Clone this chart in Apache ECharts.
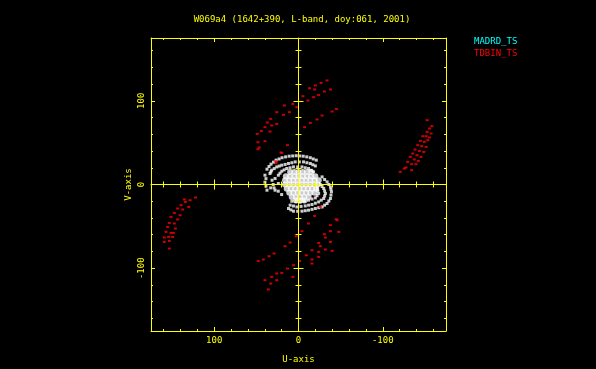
<!DOCTYPE html>
<html><head><meta charset="utf-8">
<script src="https://cdn.jsdelivr.net/npm/echarts@6/dist/echarts.min.js"></script>
<style>html,body{margin:0;padding:0;background:#000;}#c{width:596px;height:369px;}</style>
</head><body><div id="c"></div>
<script>
// ---- data (U, V) ----
const titleText = 'W069a4 (1642+390, L-band, doy:061, 2001)';
const legendNames = ['MADRD_TS', 'TDBIN_TS'];
const tickMinor = [-160,-140,-120,-100,-80,-60,-40,-20,0,20,40,60,80,100,120,140,160];
const tickMajor = [-100, 0, 100];
const crossMinor = [-160,-140,-120,-80,-60,-40,-20,20,40,60,80,120,140,160];
const crossMajor = [-100, 100];
const madrdPts = [];
const tdbinUpper = [
  [-33.9,124.3],[-26.8,121.4],[-20,118.3],[-13.1,115],[-19.1,113.5],[-30.7,111.1],[-37.9,113.5],
  [-23.9,107],[-17.9,104.3],[-11.2,100.4],[-5.3,105.5],[1.9,92.4],[6.7,96.3],[16.7,94.4],
  [10.8,86.4],[17.9,83.2],[25.8,86.4],[33,78.4],[25.8,72.4],[31.8,70.5],[39.8,68.5],[33.8,63.3],
  [49,60.5],[44,64],[37,74],[-45,90.3],[-39.9,87.2],[-28,82.4],[-22,77.7],[-14,73.6],[-7.2,68.5],
  [48.1,50.5],[39.8,51.7],[46.6,44.2],[13.1,47],[26.6,25.8],[19.8,37.8],[20.7,38.2],[27,27.8],[48.1,42.2]
];
const tdbinLower = [
  [-37.9,-55.8],[-30.7,-59.4],[-31.9,-63.3],[-23.9,-69.8],[-25.9,-73.7],[-37.9,-68.6],[-39.9,-79.3],
  [-31.9,-77.7],[-23.9,-80.5],[-23.9,-86.5],[-16,-78.5],[-16,-89.6],[-9.2,-84.5],[-16,-94.4],
  [-1.2,-91.3],[6,-96.4],[13.1,-100.4],[6.7,-110.4],[19.8,-105.6],[25.8,-106.3],[31.8,-110.4],
  [25.8,-114.3],[33,-118.3],[39.8,-114.3],[35.8,-125.4],[47.8,-91.3],[41.8,-89.6],[35,-85.7],
  [29,-82.4],[15.9,-73.7],[9.9,-69.3],[-4.1,-55.8],[2.7,-61.8],[-47.8,-56.6],[-25.9,-26.8],
  [-19.1,-37.5],[-11.9,-46.6],[-44.7,-41.5],[-45.9,-42.7],[-37.9,-48.6]
];
const tdbinRight = [
  [-152.6,76.8],[-158.2,69.7],[-155.3,66.9],[-152.6,62.8],[-157.3,60.9],[-147.4,57.7],[-151.4,57.7],
  [-155.3,56.2],[-144.6,52.1],[-149.3,50.9],[-153.4,52.9],[-141.5,47],[-146.2,45.8],[-151.4,44.9],
  [-138.2,41.8],[-143.4,40.1],[-148.6,38.9],[-135.5,37],[-140.6,35],[-145.4,33],[-132.6,33],
  [-137.4,29.9],[-142.2,28.2],[-129.5,27],[-134.3,24.3],[-139.4,24.3],[-127.5,20.3],[-134.3,17.1],
  [-120.7,15.1],[-125.4,19.1]
];
const tdbinLeft = [
  [122.2,-15.5],[128.6,-18.8],[135.4,-17.9],[134.2,-20.8],[139.3,-24.7],[130.2,-26.8],[143.4,-28.7],
  [137.4,-29.9],[147.3,-33.9],[140.5,-36.7],[151.3,-38.7],[143.4,-41.8],[153.3,-45.9],[147.3,-46.6],
  [155.3,-50.7],[146.1,-52.6],[157.2,-56.6],[151.3,-57.8],[148.5,-57.8],[159.3,-63.3],[154.1,-62.6],
  [149.3,-62.6],[159.3,-68.6],[153.3,-67.4],[153.3,-76.5]
];
const whiteRings = [
  [37.4,-6.8],[39.8,2.7],[39.8,11.1],[37.4,18.3],[32.6,24.3],[26.6,29.1],[19.5,32],[11.1,33.8],
  [2.7,34.4],[-5.6,33.8],[-14,32],[-21.1,29.1],[27.8,-6.8],[33,-4],
  [38.6,7],[38.6,-2],[35,21.5],[29.6,26.7],[23,30.5],[15.3,33],[6.9,34.1],[-1.5,34.1],[-9.8,33],[-17.5,30.5],
  [-28,9.1],[-33.9,3.1],[-37.9,-2.9],[-39.1,-8.8],[-37.9,-16.7],[-33.9,-22.7],[-28,-26.8],
  [-20,-28.7],[-11.9,-30.7],[-4.1,-31.9],[6,-31.9],[11.9,-28.7],
  [-31,6],[-36,0],[-38.5,-5.8],[-38.5,-12.7],[-36,-19.7],[-31,-24.7],[-24,-27.7],[-16,-29.7],
  [-8,-31.3],[1,-32],[9,-30.3],
  [33.8,13.1],[31.8,17.1],[25.8,21],[19.8,23.1],[11.9,25.1],[3.9,27],[-6,27],[-14,25.1],[-20,22.2],
  [27.8,7.2],[23.9,1.2],[31.4,5.1],
  [32.8,15],[28.8,19],[22.8,22],[15.8,24],[7.9,26],[-1,27],[-10,26],[-17,23.6],
  [-25.9,0],[-29.9,-4.8],[-31.9,-10.8],[-29.9,-16.7],[-23.9,-20.8],[-16,-23.9],[-8,-25.6],
  [1.9,-26.8],[9.9,-24.7],
  [-28,-2.4],[-31,-7.8],[-31,-13.7],[-27,-18.7],[-20,-22.3],[-12,-24.7],[-3,-26.2],[6,-25.7],
  [23.9,11.1],[19.8,15.9],[13.9,19.1],[6,21],[-4.1,21],[-11.9,19.1],[-17.9,15.1],
  [21.9,13.5],[17,17.5],[10,20],[1,21],[-8,20],[-15,17],
  [-22,-4.8],[-23.9,-10.8],[-20,-16],[-11.9,-18.8],[-2,-20.8],[7.9,-20],
  [-23,-7.8],[-22,-13.4],[-16,-17.4],[-7,-19.8],[3,-20.4],
  [30,0],[29,-4],[24,-8],[20,-12]
];
const whiteCore = [
  [10,15],[5,15],[0,15],[-5,15],[-10,15],[-15,15],
  [15,10],[10,10],[5,10],[0,10],[-5,10],[-10,10],[-15,10],[-20,10],
  [16,5],[11,5],[6,5],[1,5],[-4,5],[-9,5],[-14,5],[-19,5],[-24,5],
  [16,0],[11,0],[6,0],[1,0],[-4,0],[-9,0],[-14,0],[-19,0],[-23,0],
  [14,-5],[9,-5],[4,-5],[-1,-5],[-6,-5],[-11,-5],[-16,-5],[-21,-5],
  [11,-10],[6,-10],[1,-10],[-4,-10],[-9,-10],[-14,-10],[-19,-10],
  [8,-15],[3,-15],[-2,-15],[-7,-15],[-12,-15],
  [3,-19],[-2,-19],[-7,-19]
];
const tdbinAll = tdbinUpper.concat(tdbinLower, tdbinRight, tdbinLeft);

// ---- chart ----
const Y = '#ffff00';
const FONT = 'DejaVu Sans Mono';
const RANGE = 175;
function axisBase(extra) {
  return Object.assign({
    type: 'value', min: -RANGE, max: RANGE, splitLine: { show: false },
    axisLabel: { show: false }, axisTick: { show: false },
    axisLine: { show: false, onZero: false, lineStyle: { color: Y, width: 1 } }
  }, extra);
}
function tickAx(values, len, inside) {
  return { show: true, inside: inside, length: len, customValues: values, lineStyle: { color: Y, width: 1 } };
}
const xAxes = [
  axisBase({ position: 'bottom', inverse: true,
    axisLine: { show: true, onZero: false, lineStyle: { color: Y, width: 1 } },
    axisTick: tickAx(tickMinor, 2, true),
    axisLabel: { show: true, customValues: tickMajor, color: Y, fontFamily: FONT, fontSize: 9, margin: 5,
      formatter: v => String(v) },
    name: 'U-axis', nameLocation: 'middle', nameGap: 24,
    nameTextStyle: { color: Y, fontFamily: FONT, fontSize: 9 } }),
  axisBase({ position: 'bottom', inverse: true, axisTick: tickAx(tickMajor, 4, true) }),
  axisBase({ position: 'top', inverse: true,
    axisLine: { show: true, onZero: false, lineStyle: { color: Y, width: 1 } },
    axisTick: tickAx(tickMinor, 2, true) }),
  axisBase({ position: 'top', inverse: true, axisTick: tickAx(tickMajor, 4, true) }),
  axisBase({ position: 'bottom', inverse: true, z: 5,
    axisLine: { show: true, onZero: true, onZeroAxisIndex: 0, lineStyle: { color: Y, width: 1 } },
    axisTick: tickAx(crossMinor, 3, true) }),
  axisBase({ position: 'bottom', inverse: true, z: 5,
    axisLine: { show: false, onZero: true, onZeroAxisIndex: 0, lineStyle: { color: Y } },
    axisTick: tickAx(crossMinor, 3, false) }),
  axisBase({ position: 'bottom', inverse: true, z: 5,
    axisLine: { show: false, onZero: true, onZeroAxisIndex: 0, lineStyle: { color: Y } },
    axisTick: tickAx(crossMajor, 5, true) }),
  axisBase({ position: 'bottom', inverse: true, z: 5,
    axisLine: { show: false, onZero: true, onZeroAxisIndex: 0, lineStyle: { color: Y } },
    axisTick: tickAx(crossMajor, 5, false) })
];
const yAxes = [
  axisBase({ position: 'left',
    axisLine: { show: true, onZero: false, lineStyle: { color: Y, width: 1 } },
    axisTick: tickAx(tickMinor, 2, true),
    axisLabel: { show: true, customValues: tickMajor, color: Y, fontFamily: FONT, fontSize: 9, margin: 5,
      rotate: 90, formatter: v => String(v) },
    name: 'V-axis', nameLocation: 'middle', nameGap: 18, nameRotate: 90,
    nameTextStyle: { color: Y, fontFamily: FONT, fontSize: 9 } }),
  axisBase({ position: 'left', axisTick: tickAx(tickMajor, 4, true) }),
  axisBase({ position: 'right',
    axisLine: { show: true, onZero: false, lineStyle: { color: Y, width: 1 } },
    axisTick: tickAx(tickMinor, 2, true) }),
  axisBase({ position: 'right', axisTick: tickAx(tickMajor, 4, true) }),
  axisBase({ position: 'left', z: 5,
    axisLine: { show: true, onZero: true, onZeroAxisIndex: 0, lineStyle: { color: Y, width: 1 } },
    axisTick: tickAx(crossMinor, 3, true) }),
  axisBase({ position: 'left', z: 5,
    axisLine: { show: false, onZero: true, onZeroAxisIndex: 0, lineStyle: { color: Y } },
    axisTick: tickAx(crossMinor, 3, false) }),
  axisBase({ position: 'left', z: 5,
    axisLine: { show: false, onZero: true, onZeroAxisIndex: 0, lineStyle: { color: Y } },
    axisTick: tickAx(crossMajor, 5, true) }),
  axisBase({ position: 'left', z: 5,
    axisLine: { show: false, onZero: true, onZeroAxisIndex: 0, lineStyle: { color: Y } },
    axisTick: tickAx(crossMajor, 5, false) })
];

const chart = echarts.init(document.getElementById('c'), null, { renderer: 'canvas' });
chart.setOption({
  backgroundColor: '#000',
  animation: false,
  title: { text: titleText, left: 297, top: 10, textAlign: 'center',
    textStyle: { color: Y, fontFamily: FONT, fontSize: 9, fontWeight: 'normal' } },
  legend: {
    data: [
      { name: legendNames[0], textStyle: { color: '#00ffff' } },
      { name: legendNames[1], textStyle: { color: '#ff0000' } }
    ],
    orient: 'vertical', left: 469, top: 37, icon: 'none', itemWidth: 0, itemHeight: 8, itemGap: 3,
    selectedMode: false, padding: 0,
    textStyle: { fontFamily: FONT, fontSize: 9 }
  },
  grid: { left: 151, right: 150, top: 38, bottom: 38, containLabel: false },
  xAxis: xAxes,
  yAxis: yAxes,
  series: [
    { name: legendNames[0], type: 'scatter', data: madrdPts, symbol: 'rect', symbolSize: 2,
      itemStyle: { color: '#00ffff' } },
    { name: 'model', type: 'scatter', data: whiteCore, symbol: 'circle', symbolSize: 6,
      itemStyle: { color: '#ffffff' }, z: 2 },
    { name: 'rings', type: 'scatter', data: whiteRings, symbol: 'rect', symbolSize: 3,
      itemStyle: { color: '#ffffff' }, z: 2 },
    { name: legendNames[1], type: 'scatter', data: tdbinAll, symbol: 'rect', symbolSize: [3, 2],
      itemStyle: { color: '#ff0000' }, z: 3 }
  ]
});
</script></body></html>
